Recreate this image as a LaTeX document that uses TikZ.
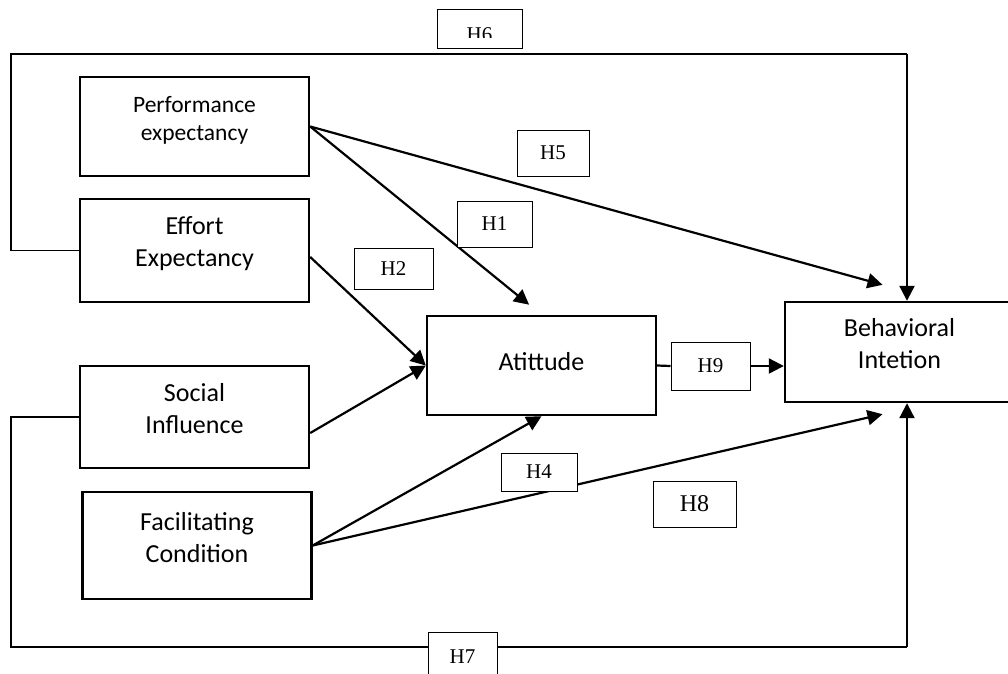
\documentclass[tikz,border=0pt]{standalone}
\usepackage{fontspec}
\setmainfont{Liberation Serif}
\newfontfamily\calibri{Carlito}
\usetikzlibrary{arrows.meta,positioning}

\begin{document}
\begin{tikzpicture}[x=1pt,y=-1pt,on grid,
    construct/.style={draw, line width=2.4pt, minimum width=229pt, align=center,
        font=\calibri\fontsize{26}{32}\selectfont, text depth=17pt},
    hyp/.style={draw, fill=white, line width=1pt, inner sep=0pt,
        font=\fontsize{21}{25}\selectfont},
    link/.style={line width=2.2pt, -{Triangle[length=15pt,width=15pt]}},
    loopline/.style={line width=1.1pt}]
  \useasboundingbox (0,0) rectangle (1008,673);

  % constructs
  \node[construct, minimum height=99pt, font=\calibri\fontsize{23.5}{28}\selectfont] (PE) at (194.5,126.5) {Performance\\expectancy};
  \node[construct, minimum height=103pt] (EE) [below=124pt of PE] {Effort\\Expectancy};
  \node[construct, minimum height=102pt] (SI) [below=166.5pt of EE] {Social\\Influence};
  \node[construct, minimum height=107pt] (FC) [below=128.5pt of SI, xshift=2.5pt] {Facilitating\\Condition};
  \node[construct, minimum height=99pt, text depth=9pt] (AT) at (541.5,365.5) {Atittude};
  \node[construct, minimum height=100pt] (BI) at (899.5,352) {Behavioral\\Intetion};

  \coordinate (bi5) at ([xshift=-17pt,yshift=16pt]BI.north);
  \coordinate (bi8) at ([xshift=-17pt,yshift=-11pt]BI.south);
  \coordinate (top) at (11,54);
  \coordinate (topr) at (907,54);
  \coordinate (bot) at (11,647);
  \coordinate (botr) at (907,647);

  % direct paths
  \draw[link] (PE.east) -- (bi5);
  \draw[link, shorten >=16pt] (PE.east) -- (AT.north);
  \draw[link] ([yshift=-6.5pt]EE.east) -- (AT.west);
  \draw[link] ([yshift=-16pt]SI.east) -- (AT.west);
  \draw[link] (FC.east) -- (AT.south);
  \draw[link] (FC.east) -- (bi8);

  % paths round the outside
  \draw[loopline] (EE.west) -| (top) -- (topr);
  \draw[link] (topr) -- (topr |- BI.north);
  \draw[loopline] (SI.west) -| (bot) -- (botr);
  \draw[link] (botr) -- (botr |- BI.south);

  % hypotheses
  \node[hyp, minimum width=72pt, minimum height=46pt] (H5) at (553,153) {H5};
  \node[hyp, minimum width=75pt, minimum height=46pt] (H1) at (494.5,224) {H1};
  \node[hyp, minimum width=79pt, minimum height=41pt] (H2) at (393.5,268.5) {H2};
  \node[hyp, minimum width=76pt, minimum height=38pt] (H4) at (539,472) {H4};
  \node[hyp, minimum width=83pt, minimum height=46pt, font=\fontsize{24}{28}\selectfont] (H8) at (694.5,504) {H8};
  \node[hyp, minimum width=79pt, minimum height=48pt] (H9) at (710.5,366) {H9};
  \node[hyp, minimum width=69pt, minimum height=50pt] (H7) at (462.5,657) {H7};
  \node[hyp, minimum width=85pt, minimum height=39pt] (H6box) at (479.5,28.5) {};
  \begin{scope}
    \clip (H6box.north west) rectangle ([yshift=11pt]H6box.south east);
    \node[font=\fontsize{21}{25}\selectfont] (H6) at ([yshift=-6pt]H6box.center) {H6};
  \end{scope}

  \draw[line width=2.2pt] (AT.east) -- (H9.west);
  \draw[link] (H9.east) -- (H9.east -| BI.west);
\end{tikzpicture}
\end{document}
